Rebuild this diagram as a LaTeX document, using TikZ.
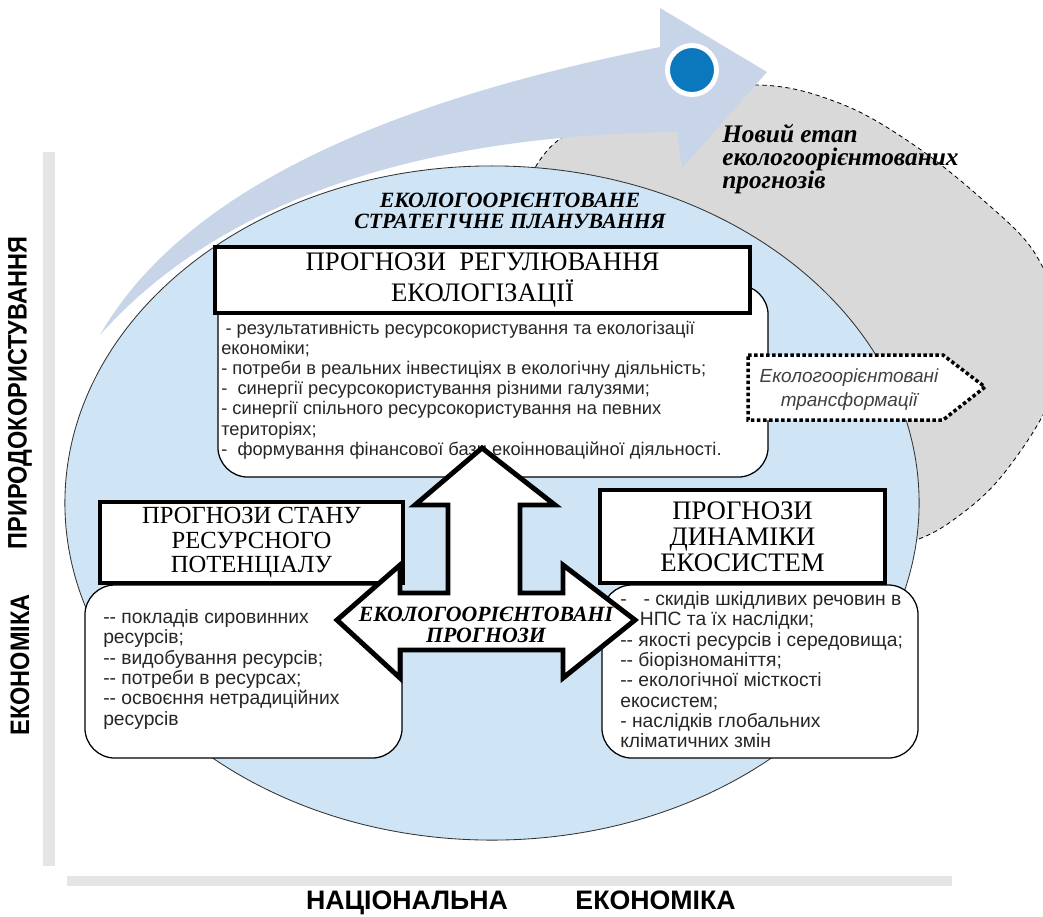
\documentclass[tikz,border=0pt]{standalone}
\usepackage{fontspec}
\setmainfont{Liberation Serif}
\setsansfont{Liberation Sans}
\usetikzlibrary{positioning}

\definecolor{ellblue}{RGB}{207,228,244}
\definecolor{arrblue}{RGB}{200,213,232}
\definecolor{granite}{RGB}{217,217,217}
\definecolor{dotblue}{RGB}{11,120,190}
\definecolor{bargrey}{RGB}{229,229,229}

\begin{document}
\begin{tikzpicture}[x=0.025cm,y=-0.025cm,
    hdrbox/.style={draw, line width=3pt, fill=white, align=center, inner sep=0pt,
      font=\fontsize{19}{21.5}\selectfont},
    listbox/.style={draw, line width=0.9pt, fill=white, rounded corners=0.75cm, inner sep=0pt},
    listtext/.style={align=left, anchor=north west, inner sep=0pt, text=black!85,
      font=\sffamily\fontsize{13.7}{14.5}\selectfont},
    ttl/.style={align=center, inner sep=0pt, font=\bfseries\itshape\fontsize{15.5}{14.5}\selectfont},
    axlbl/.style={inner sep=0pt, font=\sffamily\bfseries\fontsize{19}{19}\selectfont}]
  \clip (0,0) rectangle (1043,916);
  \fill[white] (0,0) rectangle (1043,916);

  % axes
  \fill[bargrey] (43,152) rectangle (55,866);
  \fill[bargrey] (67,876) rectangle (952,886);
  \node[axlbl, rotate=90] (axNature) at (20,393) {\scalebox{0.88}[1]{ПРИРОДОКОРИСТУВАННЯ}};
  \node[axlbl, rotate=90] (axEcon) at (20,665) {\scalebox{0.88}[1]{ЕКОНОМІКА}};
  \node[axlbl] (natLbl) at (407,903) {НАЦІОНАЛЬНА};
  \node[axlbl, base right=1.675cm of natLbl] (ecoLbl) {ЕКОНОМІКА};

  % new stage area and the planning ellipse
  \draw[fill=granite, line width=0.6pt, dash pattern=on 3pt off 2.5pt]
    plot[smooth cycle, tension=0.6] coordinates {(546,152) (640,100) (757,85) (839,103)
      (911,143) (983,200) (1036,255) (1062,330) (1050,400) (1005,472) (960,515)
      (911,542) (820,565) (650,420) (545,220)};
  \draw[fill=ellblue, draw=black!80, line width=0.6pt]
    (492,503) ellipse[x radius=10.675cm, y radius=8.425cm];

  % big curved arrow
  \fill[arrblue] (100,335) .. controls (200,160) and (470,85) .. (660,47)
    -- (660,8) -- (767,72) -- (682,168) -- (677,132)
    .. controls (420,135) and (220,200) .. (100,335) -- cycle;
  \draw[white, line width=3.5pt, fill=dotblue] (692,70) circle[radius=0.6125cm];

  \node[ttl] (planTitle) at (510,211) {ЕКОЛОГООРІЄНТОВАНЕ\\СТРАТЕГІЧНЕ ПЛАНУВАННЯ};
  \node[align=left, anchor=north west, inner sep=0pt,
    font=\bfseries\itshape\fontsize{18}{16.5}\selectfont] (newStage) at (722,124)
    {Новий етап\\екологоорієнтованих\\прогнозів};

  % forecast blocks
  \node[listbox, minimum width=13.75cm, minimum height=4.8cm] (regList) at (493,381) {};
  \node[hdrbox, minimum width=13.375cm, minimum height=1.65cm] (regHead) at (482.5,280)
    {ПРОГНОЗИ\ \ РЕГУЛЮВАННЯ\\ЕКОЛОГІЗАЦІЇ};
  \node[listtext, font=\sffamily\fontsize{13}{14.3}\selectfont] (regItems) at (221,321)
    {\hspace*{3pt}- результативність ресурсокористування та екологізації\\
     економіки;\\
     - потреби в реальних інвестиціях в екологічну діяльність;\\
     -\ \ синергії ресурсокористування різними галузями;\\
     - синергії спільного ресурсокористування на певних\\
     територіях;\\
     -\ \ формування фінансової бази екоінноваційної діяльності.};

  \node[listbox, minimum width=7.925cm, minimum height=4.325cm] (resList) at (243.5,671.5) {};
  \node[hdrbox, font=\fontsize{17.5}{17.5}\selectfont, minimum width=7.575cm,
    minimum height=2.025cm] (resHead) at (251.5,542.5) {ПРОГНОЗИ СТАНУ\\РЕСУРСНОГО\\ПОТЕНЦІАЛУ};
  \node[listtext] (resItems) at (103,609)
    {-{}- покладів сировинних\\
     ресурсів;\\
     -{}- видобування ресурсів;\\
     -{}- потреби в ресурсах;\\
     -{}- освоєння нетрадиційних\\
     ресурсів};

  \node[listbox, minimum width=7.9cm, minimum height=4.325cm] (ecoList) at (760,671.5) {};
  \node[hdrbox, font=\fontsize{19}{18.5}\selectfont, minimum width=7.125cm,
    minimum height=2.325cm] (ecoHead) at (742.5,536.5) {ПРОГНОЗИ\\ДИНАМІКИ\\ЕКОСИСТЕМ};
  \node[listtext] (ecoItems) at (620,591)
    {-\hspace*{12pt}- скидів шкідливих речовин в\\
     \hspace*{14pt}НПС та їх наслідки;\\
     -{}- якості ресурсів і середовища;\\
     -{}- біорізноманіття;\\
     -{}- екологічної місткості\\
     екосистем;\\
     - наслідків глобальних\\
     кліматичних змін};

  % central cross arrow
  \draw[line width=3.5pt, fill=white, line join=miter]
    (482,448) -- (555,505) -- (520,505) -- (520,593) -- (563,593) -- (563,565)
    -- (635,620) -- (563,678) -- (563,650) -- (400,650) -- (400,678) -- (337,620)
    -- (400,565) -- (400,593) -- (448,593) -- (448,505) -- (415,505) -- cycle;
  \node[ttl] (fcTitle) at (486,625) {ЕКОЛОГООРІЄНТОВАНІ\\ПРОГНОЗИ};

  % transformation tag
  \draw[fill=white, line width=2.5pt, dash pattern=on 2.5pt off 1.8pt]
    (748,355) -- (943,355) -- (985,387) -- (943,420) -- (748,420) -- cycle;
  \node[align=center, inner sep=0pt, text=black!75,
    font=\sffamily\itshape\fontsize{13.5}{17}\selectfont] (transTag) at (849,390)
    {Екологоорієнтовані\\трансформації};
\end{tikzpicture}
\end{document}
